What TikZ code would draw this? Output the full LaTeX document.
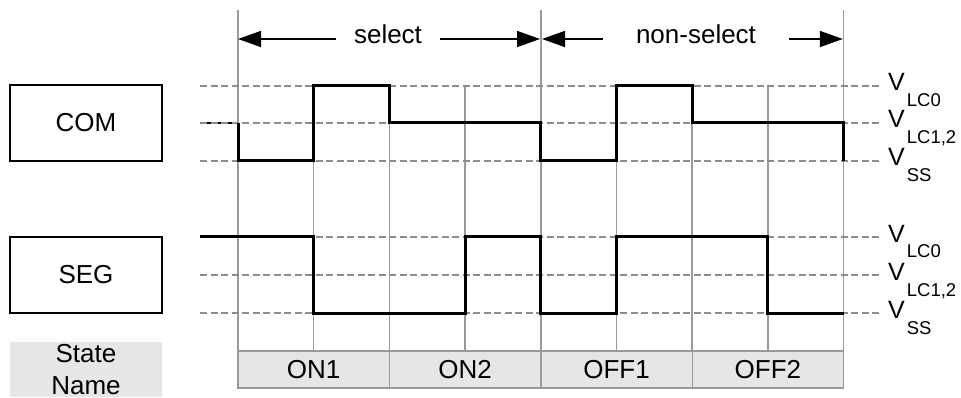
\documentclass[tikz,border=0pt]{standalone}
\usepackage{fontspec}
\setmainfont{Liberation Sans}
\usetikzlibrary{arrows.meta,positioning,calc}
\usepackage{xcolor}
\definecolor{gridgray}{HTML}{9A9A9A}
\definecolor{dashgray}{HTML}{8C8C8C}
\definecolor{cellgray}{HTML}{E6E6E6}
\newcommand{\vlevel}[1]{{\fontsize{25}{25}\selectfont V}\kern2pt\raisebox{-16pt}{\fontsize{18.5}{18.5}\selectfont #1}}

\begin{document}
\begin{tikzpicture}[
  x=1pt, y=-1pt,
  font=\fontsize{26}{32}\selectfont,
  sigbox/.style={draw, line width=1.3pt, minimum width=152pt, minimum height=76pt, inner sep=0pt},
  namebox/.style={fill=cellgray, minimum width=152pt, minimum height=55pt, inner sep=0pt, align=center},
  statecell/.style={draw=gridgray, line width=1.2pt, fill=cellgray, minimum width=151.4pt, minimum height=37pt, inner sep=0pt, outer sep=0pt},
  gridline/.style={draw=gridgray, line width=1.5pt},
  levelline/.style={draw=dashgray, line width=1.5pt, dash pattern=on 7pt off 3.5pt},
  wave/.style={line width=3pt, line join=miter},
  vlab/.style={anchor=base west, inner sep=0pt},
  dimarrow/.style={-{Triangle[length=23pt, width=16pt]}, line width=1.5pt}
]
\useasboundingbox (0,0) rectangle (961,398);
% time marks and signal levels
\foreach \i in {0,...,8}
  \coordinate (t\i) at ({238+75.7*\i},10);
\coordinate (lstart) at (200,0);
\coordinate (lend) at (881.5,0);
\coordinate (cHi) at (0,86);
\coordinate (cMid) at (0,123);
\coordinate (cLo) at (0,161);
\coordinate (sHi) at (0,237);
\coordinate (sMid) at (0,275);
\coordinate (sLo) at (0,313);
\coordinate (ay) at (0,39);

% left labels
\node[sigbox] (com) at (86,123) {COM};
\node[sigbox] (seg) at (86,275) {SEG};
\node[namebox] (sname) at (86,369.5) {State\\Name};

% state row
\node[statecell, anchor=north west] (on1) at (t0 |- 0,351) {ON1};
\node[statecell, right=0pt of on1] (on2) {ON2};
\node[statecell, right=0pt of on2] (off1) {OFF1};
\node[statecell, right=0pt of off1] (off2) {OFF2};

% grid
\foreach \i in {0,4,8}
  \draw[gridline] (t\i) -- (t\i |- 0,388);
\foreach \i in {1,2,3,5,6,7}
  \draw[gridline] (t\i |- cHi) -- (t\i |- 0,351);

\draw[line width=1.5pt] (lstart |- cMid) -- (t0 |- cMid);
\foreach \l in {cHi,cMid,cLo,sHi,sMid,sLo}
  \draw[levelline] (lstart |- \l) -- (lend |- \l);

% waveforms
\draw[wave] (t0 |- cMid) -- (t0 |- cLo) -- (t1 |- cLo) -- (t1 |- cHi) -- (t2 |- cHi)
  -- (t2 |- cMid) -- (t4 |- cMid) -- (t4 |- cLo) -- (t5 |- cLo) -- (t5 |- cHi)
  -- (t6 |- cHi) -- (t6 |- cMid) -- (t8 |- cMid) -- (t8 |- cLo);
\draw[wave] (lstart |- sHi) -- (t1 |- sHi) -- (t1 |- sLo) -- (t3 |- sLo) -- (t3 |- sHi)
  -- (t4 |- sHi) -- (t4 |- sLo) -- (t5 |- sLo) -- (t5 |- sHi) -- (t7 |- sHi)
  -- (t7 |- sLo) -- (t8 |- sLo);

% level labels
\node[vlab] (lcHi) at ($(lend |- cHi)+(6.5,5)$) {\vlevel{LC0}};
\node[vlab] (lcMid) at ($(lend |- cMid)+(6.5,5)$) {\vlevel{LC1,2}};
\node[vlab] (lcLo) at ($(lend |- cLo)+(6.5,5)$) {\vlevel{SS}};
\node[vlab] (lsHi) at ($(lend |- sHi)+(6.5,5)$) {\vlevel{LC0}};
\node[vlab] (lsMid) at ($(lend |- sMid)+(6.5,5)$) {\vlevel{LC1,2}};
\node[vlab] (lsLo) at ($(lend |- sLo)+(6.5,5)$) {\vlevel{SS}};

% select / non-select
\node[anchor=base, inner ysep=0pt, inner xsep=18pt] (sel) at (388,44) {select};
\node[anchor=base, inner ysep=0pt, inner xsep=33pt] (nsel) at (696,44) {non-select};
\draw[dimarrow] (sel.west |- ay) -- (t0 |- ay);
\draw[dimarrow] (sel.east |- ay) -- ([xshift=-0.8pt]t4 |- ay);
\draw[dimarrow] (nsel.west |- ay) -- ([xshift=1.2pt]t4 |- ay);
\draw[dimarrow] (nsel.east |- ay) -- ([xshift=-0.8pt]t8 |- ay);
\end{tikzpicture}
\end{document}
